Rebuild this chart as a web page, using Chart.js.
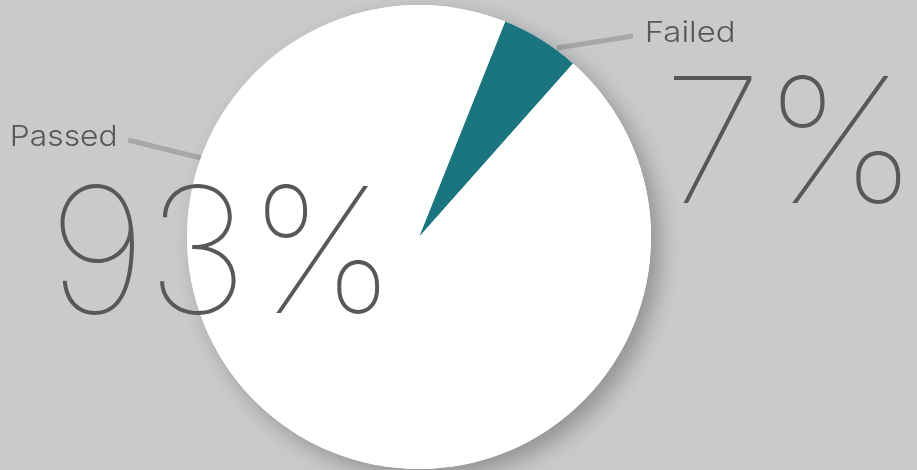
<!DOCTYPE html>
<html>
<head>
<meta charset="utf-8">
<script src="https://cdn.jsdelivr.net/npm/chart.js@4.4.1/dist/chart.umd.min.js"></script>
<style>
  html, body { margin: 0; padding: 0; background: #c9cacc; }
  #wrap { width: 917px; height: 470px; position: relative; }
</style>
</head>
<body>
<div id="wrap"><canvas id="pie"></canvas></div>
<script>
// data
var categories = ['Failed', 'Passed'];
var sliceValues = [5.5, 94.5];      // slice sizes as drawn
var pctLabels = ['7%', '93%'];      // printed labels
var sliceColors = ['#1b7580', '#ffffff'];

var textColor = '#58585a';
var lineColor = '#a6a7a9';

// label placement: [left ink x, baseline, ink width, fontsize] per category
var bigText = [[673, 203, 228, 174], [60, 313, 320, 175]];
var smallText = [[647, 42, 87, 29], [12, 146, 104, 29]];
var leaders = [[[557, 48], [633, 36]], [[128, 140], [205, 159]]];

function fitText(ctx, txt, x, y, w, size, weight) {
  ctx.save();
  ctx.font = weight + ' ' + size + 'px Inter, "Open Sans", sans-serif';
  var m = ctx.measureText(txt);
  var inkW = m.actualBoundingBoxLeft + m.actualBoundingBoxRight;
  var k = w / inkW;
  ctx.translate(x + m.actualBoundingBoxLeft * k, y);
  ctx.scale(k, 1);
  ctx.fillStyle = textColor;
  ctx.textBaseline = 'alphabetic';
  ctx.fillText(txt, 0, 0);
  ctx.restore();
}

var decor = {
  id: 'decor',
  beforeDatasetsDraw: function(chart) {
    var ctx = chart.ctx;
    var arc = chart.getDatasetMeta(0).data[0];
    // leader lines go under the pie
    ctx.save();
    ctx.strokeStyle = lineColor;
    ctx.lineWidth = 5;
    leaders.forEach(function(l) {
      ctx.beginPath();
      ctx.moveTo(l[0][0], l[0][1]);
      ctx.lineTo(l[1][0], l[1][1]);
      ctx.stroke();
    });
    // soft shadow behind whole pie
    ctx.shadowColor = 'rgba(0,0,0,0.28)';
    ctx.shadowBlur = 22;
    ctx.shadowOffsetX = 9;
    ctx.shadowOffsetY = 9;
    ctx.fillStyle = '#ffffff';
    ctx.beginPath();
    ctx.arc(arc.x, arc.y, arc.outerRadius, 0, Math.PI * 2);
    ctx.fill();
    ctx.restore();
  },
  afterDraw: function(chart) {
    var ctx = chart.ctx;
    categories.forEach(function(c, i) {
      var s = smallText[i];
      fitText(ctx, c, s[0], s[1], s[2], s[3], 300);
      var b = bigText[i];
      fitText(ctx, pctLabels[i], b[0], b[1], b[2], b[3], 100);
    });
  }
};

new Chart(document.getElementById('pie').getContext('2d'), {
  type: 'pie',
  data: {
    labels: categories,
    datasets: [{
      data: sliceValues,
      backgroundColor: sliceColors,
      borderWidth: 0
    }]
  },
  options: {
    responsive: true,
    maintainAspectRatio: false,
    animation: false,
    rotation: 21.8,
    layout: { padding: { left: 0, right: 79, top: 5, bottom: 1 } },
    plugins: {
      legend: { display: false },
      tooltip: { enabled: false }
    }
  },
  plugins: [decor]
});
</script>
</body>
</html>
